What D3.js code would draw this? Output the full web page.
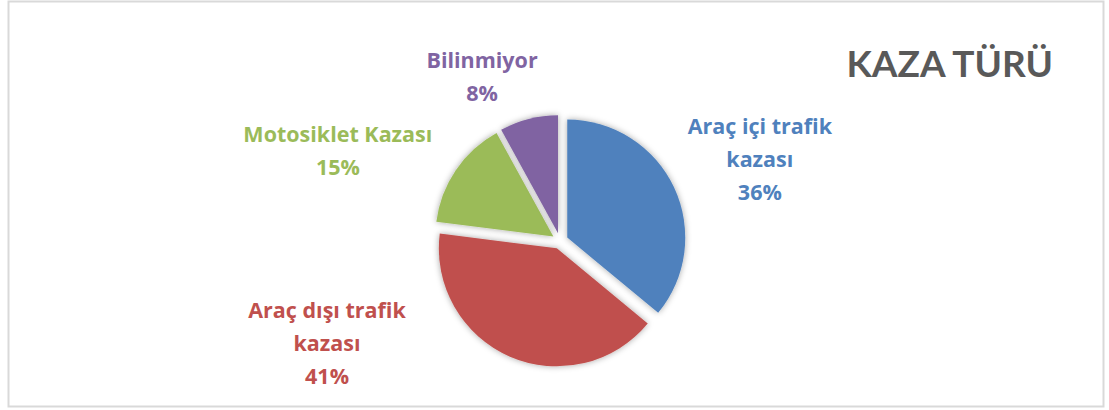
<!DOCTYPE html>
<html lang="tr">
<head>
<meta charset="UTF-8">
<title>KAZA TÜRÜ</title>
<script src="https://d3js.org/d3.v7.min.js"></script>
<style>
    body { margin: 0; background: #fff; }
    #canvas { display: block; }
    .lbl { font-family: "Open Sans", Lato, sans-serif; font-weight: bold; font-size: 21.5px; }
    .title { font-family: Lato, "Open Sans", sans-serif; font-weight: bold; font-size: 37px; fill: #595959; }
</style>
</head>
<body>
<svg id="canvas" width="1109" height="410"></svg>
<script>
    // data
    let categories = ["Araç içi trafik kazası", "Araç dışı trafik kazası", "Motosiklet Kazası", "Bilinmiyor"]
    let labelLines = [["Araç içi trafik", "kazası"], ["Araç dışı trafik", "kazası"], ["Motosiklet Kazası"], ["Bilinmiyor"]]
    let values = [36, 41, 15, 8]
    let colors = ["#4F81BD", "#C0504D", "#9BBB59", "#8064A2"]
    let titleText = "KAZA TÜRÜ"

    let W = 1109, H = 410
    let svg = d3.select('#canvas')

    // chart area border
    svg.append('rect')
        .attr('x', 8.5).attr('y', 1.5)
        .attr('width', 1095).attr('height', 405)
        .attr('fill', '#fff')
        .attr('stroke', '#d9d9d9')
        .attr('stroke-width', 2)

    let defs = svg.append('defs')
    let f = defs.append('filter').attr('id', 'shadow')
        .attr('x', '-20%').attr('y', '-20%').attr('width', '140%').attr('height', '140%')
    f.append('feDropShadow')
        .attr('dx', 0).attr('dy', 0)
        .attr('stdDeviation', 3)
        .attr('flood-color', '#000')
        .attr('flood-opacity', 0.35)

    let cx = 560, cy = 241, r = 118, explode = 8
    let total = d3.sum(values)

    let pie = d3.pie().sort(null).value(d => d)
    let arcs = pie(values)
    let arc = d3.arc().innerRadius(0).outerRadius(r)
    let labelArc = d3.arc().innerRadius(r * 1.6).outerRadius(r * 1.6)

    let g = svg.append('g').attr('transform', `translate(${cx},${cy})`)

    g.selectAll('path')
        .data(arcs)
        .enter()
        .append('path')
        .attr('d', arc)
        .attr('fill', (d, i) => colors[i])
        .attr('filter', 'url(#shadow)')
        .attr('transform', function (d) {
            let a = (d.startAngle + d.endAngle) / 2
            return `translate(${Math.sin(a) * explode},${-Math.cos(a) * explode})`
        })

    // best-fit style label nudges (Excel places them around the pie)
    let nudge = [[29, 6.5], [-158, -63], [-66, 24], [-31, 26.5]]
    let lineH = 33

    let labels = g.selectAll('text.lbl')
        .data(arcs)
        .enter()
        .append('text')
        .attr('class', 'lbl')
        .attr('text-anchor', 'middle')
        .attr('fill', (d, i) => colors[i])

    labels.each(function (d, i) {
        let c = labelArc.centroid(d)
        let x = c[0] + nudge[i][0], y = c[1] + nudge[i][1]
        let lines = labelLines[i].concat([Math.round(d.value / total * 100) + '%'])
        let n = lines.length
        d3.select(this).selectAll('tspan')
            .data(lines)
            .enter()
            .append('tspan')
            .attr('x', x)
            .attr('y', (t, k) => y + (k - (n - 1) / 2) * lineH)
            .text(t => t)
    })

    svg.append('text')
        .attr('class', 'title')
        .attr('x', 1053).attr('y', 77)
        .attr('text-anchor', 'end')
        .text(titleText)
</script>
</body>
</html>
